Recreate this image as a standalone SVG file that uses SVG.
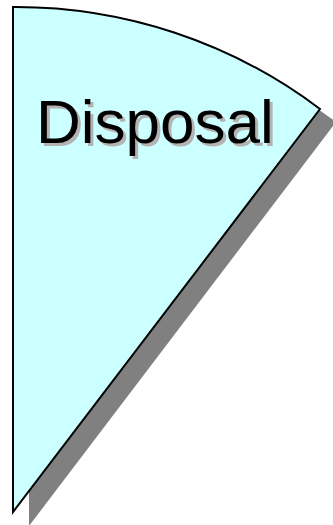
<svg xmlns="http://www.w3.org/2000/svg" width="333" height="525" viewBox="0 0 333 525">
<style>
.shadow{fill:#808080;stroke:none}
.sector{fill:#ccffff;stroke:#000;stroke-width:2;stroke-linejoin:miter}
.lbl{font-family:"Liberation Sans",Arial,sans-serif;font-size:62px}
</style>
<rect width="333" height="525" fill="#fff"/>
<g id="disposal">
<path class="shadow" d="M29,21 A505,505 0 0 1 336,122 L29,526 Z"/>
<path class="sector" d="M13,7 A505,505 0 0 1 320,109 L13,512 Z"/>
<text class="lbl" x="39" y="146" fill="#b3b3b3">Disposal</text>
<text class="lbl" x="36" y="143" fill="#000">Disposal</text>
</g>
</svg>
